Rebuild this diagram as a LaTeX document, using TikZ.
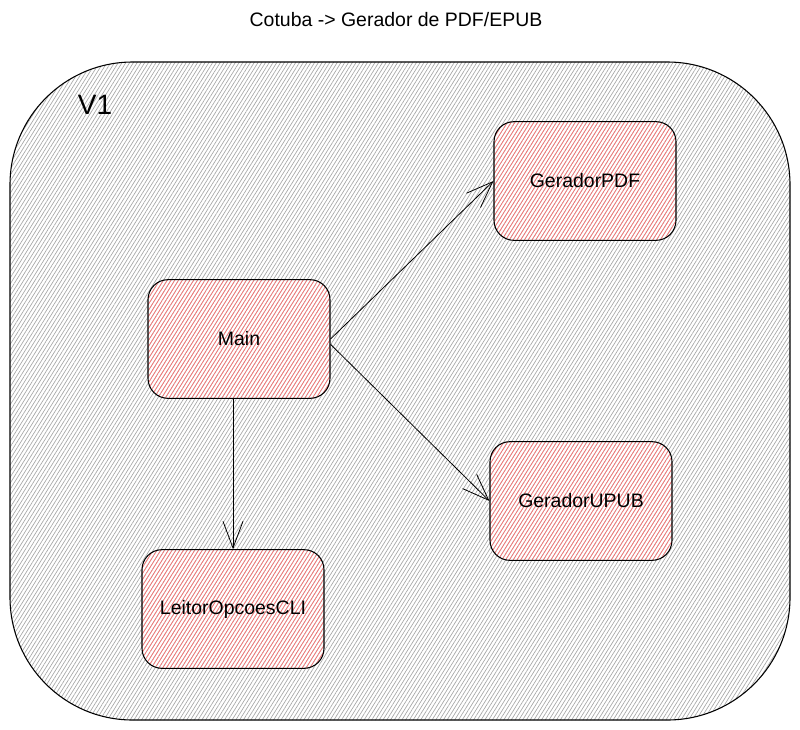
\documentclass[tikz,border=0pt]{standalone}
\usepackage{fontspec}
\setmainfont{Liberation Sans}
\usepackage{tikz}
\usetikzlibrary{positioning,arrows.meta,patterns.meta}

\begin{document}
\begin{tikzpicture}[x=0.75pt, y=-0.75pt,
    hatchgray/.style={pattern={Lines[angle=58,distance=2.4pt,line width=0.5pt]}, pattern color=black!35},
    hatchred/.style={pattern={Lines[angle=58,distance=2.4pt,line width=0.5pt]}, pattern color=red!55},
    container/.style={draw, line width=0.8pt, rounded corners=92pt, hatchgray, minimum width=585pt, minimum height=493.5pt},
    modbox/.style={draw, line width=0.8pt, rounded corners=15pt, hatchred, minimum width=136.5pt, minimum height=89pt, font=\fontsize{14.6}{17}\selectfont},
    dep/.style={-{Straight Barb[length=20pt,width=15pt,line width=0.6pt]}, line width=0.6pt}]
  \useasboundingbox (0,0) rectangle (800,729);

  % title
  \node (title) at (396,20) {\fontsize{14.6}{17}\selectfont Cotuba -> Gerador de PDF/EPUB};

  % V1 container
  \node[container] (v1box) at (400,391) {};
  \node[font=\fontsize{21}{24}\selectfont] (v1label) at (95,105) {V1};

  % modules
  \node[modbox] (main) at (239,339) {Main};
  \node[modbox] (pdf) at (585,181) {GeradorPDF};
  \node[modbox] (upub) at (581,501) {GeradorUPUB};
  \node[modbox] (leitor) at (233,609) {LeitorOpcoesCLI};

  % dependencies
  \draw[dep] (main.east) -- (pdf.west);
  \draw[dep] ([yshift=-4pt]main.east) -- (upub.west);
  \draw[dep] (main.south -| leitor.north) -- (leitor.north);
\end{tikzpicture}
\end{document}
